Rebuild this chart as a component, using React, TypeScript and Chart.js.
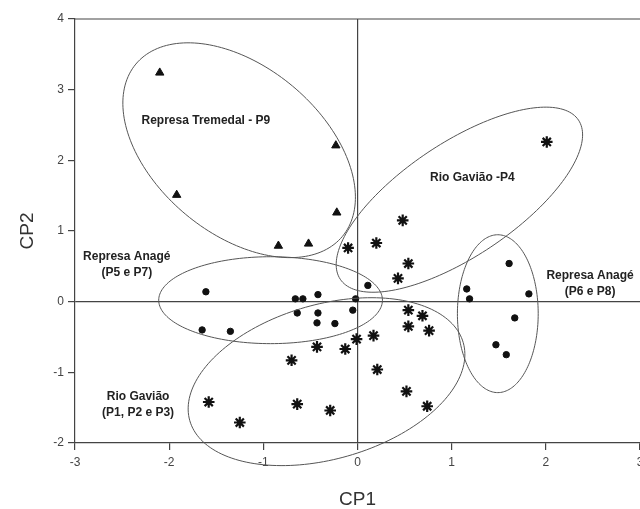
import React, { useEffect, useRef } from 'react';
import { Chart, registerables } from 'chart.js';
Chart.register(...registerables);

// Represa Tremedal - P9 (triangles)
const tremedalX = [-2.10, -1.92, -0.23, -0.22, -0.84, -0.52];
const tremedalY = [3.24, 1.51, 2.21, 1.26, 0.79, 0.82];

// Represa Anagé (circles): P5 e P7 and P6 e P8
const anageX = [-1.61, -1.65, -1.35, -0.66, -0.58, -0.42, -0.64, -0.42, -0.43, -0.24, -0.05, -0.02, 0.11,
  1.61, 1.16, 1.19, 1.82, 1.67, 1.47, 1.58];
const anageY = [0.14, -0.40, -0.42, 0.04, 0.04, 0.10, -0.16, -0.16, -0.30, -0.31, -0.12, 0.04, 0.23,
  0.54, 0.18, 0.04, 0.11, -0.23, -0.61, -0.75];

// Rio Gavião (asterisks): P4 and P1, P2 e P3
const gaviaoX = [2.01, 0.48, 0.20, -0.10, 0.54, 0.43,
  0.54, 0.69, 0.54, 0.76, 0.17, -0.01, -0.13, -0.43, 0.21, 0.52, 0.74, -0.29, -0.70, -1.58, -1.25, -0.64];
const gaviaoY = [2.26, 1.15, 0.83, 0.76, 0.54, 0.33,
  -0.12, -0.20, -0.35, -0.41, -0.48, -0.53, -0.67, -0.64, -0.96, -1.27, -1.48, -1.54, -0.83, -1.42, -1.71, -1.45];

// Group ellipses (data units): center, two conjugate half-axis vectors
const ellipseCx = [-1.257, 1.082, -0.923, -0.329, 1.49];
const ellipseCy = [2.143, 1.443, 0.021, -1.132, -0.17];
const ellipseAx = [1.097, 1.265, 1.188, 1.452, 0.429];
const ellipseAy = [-1.219, 1.126, 0, 0.552, 0];
const ellipseBx = [-0.567, 0.334, 0, 0.225, 0];
const ellipseBy = [-0.908, -0.669, 0.615, -1.052, 1.117];

// Group labels
const labelTexts = [
  ['Represa Tremedal - P9'],
  ['Rio Gavião -P4'],
  ['Represa Anagé', '(P5 e P7)'],
  ['Rio Gavião', '(P1, P2 e P3)'],
  ['Represa Anagé', '(P6 e P8)'],
];
const labelX = [-1.61, 1.22, -2.45, -2.33, 2.47];
const labelY = [2.56, 1.76, 0.52, -1.46, 0.25];

const xTicksMin = -3;
const xTicksMax = 3;
const yTicksMin = -2;
const yTicksMax = 4;

const pts = (xs: number[], ys: number[]) => xs.map((x, i) => ({ x, y: ys[i] }));

const AXIS = '#444';

export default function App() {
  const ref = useRef<HTMLCanvasElement>(null);
  useEffect(() => {
    if (!ref.current) return;
    const overlay = {
      id: 'overlay',
      afterDatasetsDraw(chart: any) {
        const { ctx, scales, chartArea } = chart;
        const xs = scales.x, ys = scales.y;
        ctx.save();
        // top frame line
        ctx.strokeStyle = AXIS;
        ctx.lineWidth = 1.2;
        ctx.beginPath();
        ctx.moveTo(chartArea.left, chartArea.top);
        ctx.lineTo(chartArea.right, chartArea.top);
        ctx.stroke();
        // ellipses
        ctx.strokeStyle = '#555';
        ctx.lineWidth = 1;
        for (let e = 0; e < ellipseCx.length; e++) {
          ctx.beginPath();
          const n = 180;
          for (let k = 0; k <= n; k++) {
            const t = (k / n) * Math.PI * 2;
            const dx = ellipseCx[e] + ellipseAx[e] * Math.cos(t) + ellipseBx[e] * Math.sin(t);
            const dy = ellipseCy[e] + ellipseAy[e] * Math.cos(t) + ellipseBy[e] * Math.sin(t);
            const px = xs.getPixelForValue(dx);
            const py = ys.getPixelForValue(dy);
            if (k === 0) ctx.moveTo(px, py); else ctx.lineTo(px, py);
          }
          ctx.closePath();
          ctx.stroke();
        }
        // labels
        ctx.fillStyle = '#222';
        ctx.font = 'bold 12px "Liberation Sans", Arial, sans-serif';
        ctx.textAlign = 'center';
        ctx.textBaseline = 'middle';
        for (let i = 0; i < labelTexts.length; i++) {
          const lines = labelTexts[i];
          const cx = xs.getPixelForValue(labelX[i]);
          const cy = ys.getPixelForValue(labelY[i]);
          const lh = 16;
          lines.forEach((ln, j) => {
            ctx.fillText(ln, cx, cy + (j - (lines.length - 1) / 2) * lh);
          });
        }
        ctx.restore();
      },
    };

    const gridColor = (c: any) => (c.tick && c.tick.value === 0 ? AXIS : 'transparent');

    const chart = new Chart(ref.current, {
      type: 'scatter',
      data: {
        datasets: [
          {
            data: pts(tremedalX, tremedalY),
            pointStyle: 'triangle',
            pointRadius: 4.8,
            backgroundColor: '#111',
            borderColor: '#111',
            borderWidth: 1,
          },
          {
            data: pts(anageX, anageY),
            pointStyle: 'circle',
            pointRadius: 3.2,
            backgroundColor: '#111',
            borderColor: '#111',
            borderWidth: 1,
          },
          {
            data: pts(gaviaoX, gaviaoY),
            pointStyle: 'star',
            pointRadius: 5.8,
            backgroundColor: '#111',
            borderColor: '#111',
            borderWidth: 2.2,
          },
        ],
      },
      options: {
        animation: false,
        responsive: false,
        maintainAspectRatio: false,
        layout: { autoPadding: false, padding: { top: 19, right: 0, left: 0, bottom: 0 } },
        plugins: { legend: { display: false }, tooltip: { enabled: false } },
        scales: {
          x: {
            type: 'linear',
            min: xTicksMin,
            max: xTicksMax,
            afterFit: (s: any) => { s.height = 66; s.paddingLeft = 0; s.paddingRight = 0; },
            ticks: {
              stepSize: 1,
              color: AXIS,
              padding: 5,
              maxRotation: 0,
              font: { family: '"Liberation Sans", Arial, sans-serif', size: 12 },
            },
            grid: { color: gridColor, lineWidth: 1.2, tickColor: AXIS, tickLength: 7, tickWidth: 1.2, drawOnChartArea: true },
            border: { display: true, color: AXIS, width: 1.2 },
            title: {
              display: true,
              text: 'CP1',
              color: '#333',
              padding: { top: 0, bottom: 0 },
              font: { family: '"Liberation Sans", Arial, sans-serif', size: 19, lineHeight: 1 },
            },
          },
          y: {
            type: 'linear',
            min: yTicksMin,
            max: yTicksMax,
            afterFit: (s: any) => { s.width = 75; s.paddingTop = 0; s.paddingBottom = 0; },
            ticks: {
              stepSize: 1,
              color: AXIS,
              padding: 4,
              font: { family: '"Liberation Sans", Arial, sans-serif', size: 12 },
            },
            grid: { color: gridColor, lineWidth: 1.2, tickColor: AXIS, tickLength: 7, tickWidth: 1.2, drawOnChartArea: true },
            border: { display: true, color: AXIS, width: 1.2 },
            title: {
              display: true,
              text: 'CP2',
              color: '#333',
              padding: { top: 18.5, bottom: 0 },
              font: { family: '"Liberation Sans", Arial, sans-serif', size: 19, lineHeight: 1 },
            },
          },
        },
      } as any,
      plugins: [overlay],
    });
    return () => chart.destroy();
  }, []);
  return (
    <div style={{ position: 'absolute', left: 0, top: 0, width: 640, height: 509, background: '#fff' }}>
      <canvas ref={ref} width={640} height={509} style={{ display: 'block', width: 640, height: 509 }} />
    </div>
  );
}
